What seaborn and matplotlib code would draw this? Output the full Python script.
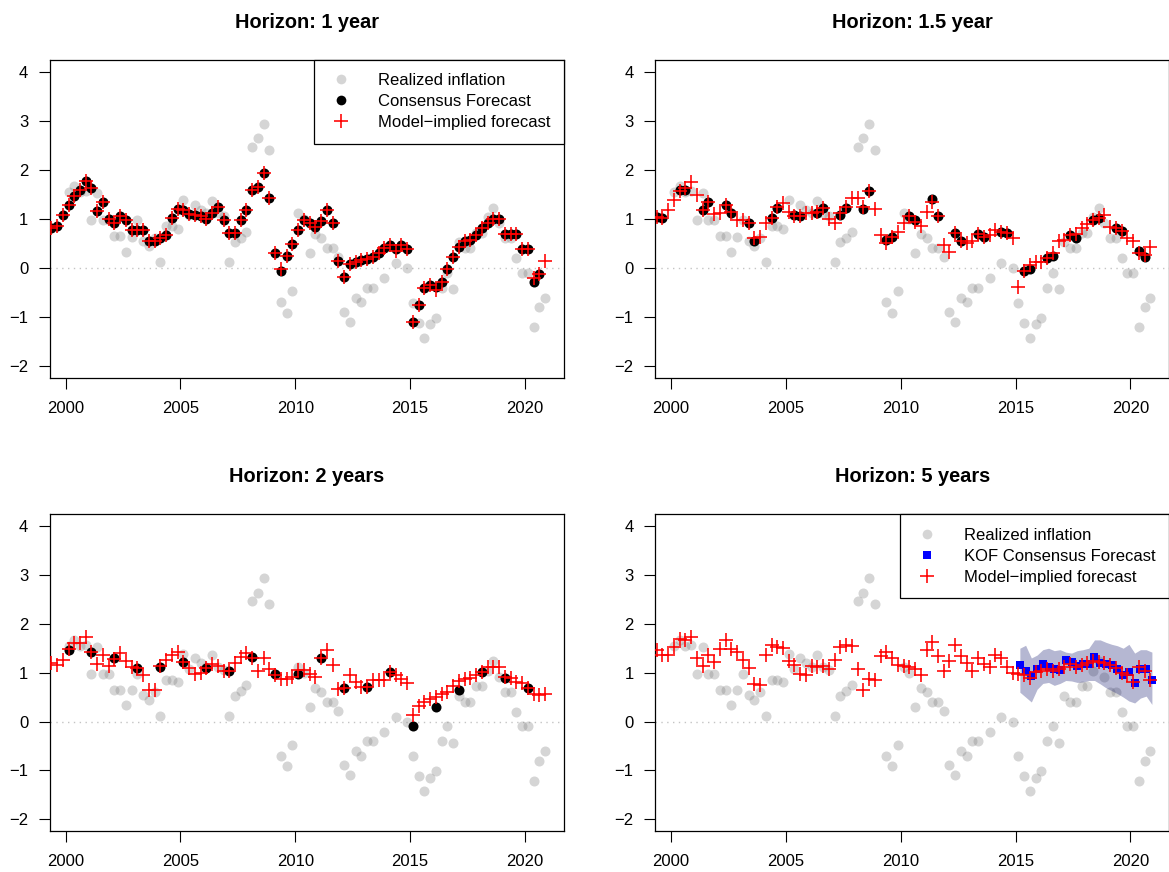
import numpy as np
import matplotlib
matplotlib.use("Agg")
import matplotlib.pyplot as plt
import seaborn as sns
from matplotlib.lines import Line2D

sns.set_theme(style="ticks")
plt.rcParams["font.family"] = ["Liberation Sans", "DejaVu Sans"]
plt.rcParams["axes.unicode_minus"] = True

# Quarterly observation dates (mid-quarter), 1999Q2 .. 2020Q4
dates = np.round(np.arange(1999.375, 2021.0, 0.25), 3)
nan = np.nan

# Realized CPI inflation (same in every panel)
realized = [
    nan, nan, nan, 1.55, 1.66, 1.55, 1.56, 0.98, 1.53, 0.98, 0.98,
    0.65, 0.65, 0.33, 0.64, 0.97, 0.54, 0.44, 0.60, 0.12, 0.85, 0.85,
    0.80, 1.39, 1.08, 1.29, 1.19, 1.12, 1.36, 1.12, 1.05, 0.12, 0.52,
    0.62, 0.74, 2.47, 2.64, 2.94, 2.41, nan, -0.70, -0.91, -0.47, 1.12,
    1.00, 0.30, 0.69, 0.61, 0.40, 0.40, 0.22, -0.89, -1.10, -0.61, -0.70,
    -0.40, -0.40, nan, -0.21, nan, 0.10, nan, 0.00, -0.71, -1.12, -1.42,
    -1.15, -1.02, -0.40, -0.10, -0.43, 0.52, 0.40, 0.40, 0.72, 0.72, 1.03,
    1.23, 0.91, 0.61, 0.61, 0.20, -0.10, -0.10, -1.21, -0.80, -0.61,
]

# Horizon 1 year
consensus_1y = [
    0.81, 0.86, 1.08, 1.28, 1.47, 1.58, 1.78, 1.62, 1.17, 1.34, 1.00,
    0.91, 1.05, 0.98, 0.77, 0.77, 0.77, 0.55, 0.54, 0.62, 0.67, 1.01,
    1.20, 1.18, 1.10, 1.08, 1.05, 0.99, 1.11, 1.25, 0.98, 0.71, 0.71,
    0.98, 1.18, 1.59, 1.64, 1.94, 1.43, 0.31, -0.07, 0.24, 0.48, 0.77,
    0.98, 0.92, 0.83, 0.96, 1.19, 0.92, 0.14, -0.18, 0.08, 0.13, 0.16,
    0.18, 0.23, 0.31, 0.40, 0.47, 0.39, 0.47, 0.38, -1.11, -0.75, -0.41,
    -0.35, -0.38, -0.28, -0.03, 0.23, 0.43, 0.54, 0.57, 0.67, 0.81, 0.91,
    0.99, 0.99, 0.69, 0.69, 0.69, 0.39, 0.39, -0.28, -0.13,
]
model_1y = [
    0.81, 0.86, 1.08, 1.28, 1.47, 1.58, 1.78, 1.62, 1.17, 1.34, 1.00,
    0.91, 1.05, 0.98, 0.77, 0.77, 0.77, 0.55, 0.54, 0.62, 0.67, 1.01,
    1.20, 1.18, 1.10, 1.08, 1.05, 0.99, 1.11, 1.25, 0.98, 0.71, 0.71,
    0.98, 1.18, 1.59, 1.64, 1.94, 1.43, 0.31, -0.03, 0.24, 0.48, 0.77,
    0.98, 0.92, 0.83, 0.96, 1.19, 0.92, 0.14, -0.18, 0.08, 0.13, 0.16,
    0.18, 0.23, 0.31, 0.40, 0.47, 0.35, 0.47, 0.38, -1.11, -0.75, -0.41,
    -0.35, -0.45, -0.28, -0.03, 0.23, 0.43, 0.54, 0.57, 0.67, 0.81, 0.91,
    0.99, 0.99, 0.69, 0.69, 0.69, 0.39, 0.39, -0.21, -0.13, 0.15,
]

# Horizon 1.5 years (consensus published for Q2 and Q3 of each year)
dates_cons_15y = np.round(np.sort(np.concatenate(
    [np.arange(1999.375, 2021, 1.0), np.arange(1999.625, 2021, 1.0)])), 3)
consensus_15y = [
    1.03, 1.01, 1.59, 1.59, 1.18, 1.35, 1.28, 1.11, 0.91, 0.54, 1.01,
    1.22, 1.08, 1.05, 1.11, 1.22, 1.08, 1.22, 1.20, 1.56, 0.57, 0.64,
    1.05, 0.98, 1.40, 1.05, 0.72, 0.55, 0.70, 0.63, 0.73, 0.71, -0.07,
    -0.02, 0.20, 0.24, 0.68, 0.62, 0.98, 1.01, 0.81, 0.75, 0.35, 0.22,
]
model_15y = [
    1.03, 1.01, 1.18, 1.39, 1.56, 1.62, 1.76, 1.49, 1.18, 1.35, 1.09,
    1.11, 1.28, 1.15, 0.98, 0.98, 0.91, 0.60, 0.64, 0.91, 1.01, 1.25,
    1.32, 1.15, 1.06, 1.06, 1.11, 1.11, 1.15, 1.22, 0.99, 0.91, 1.11,
    1.25, 1.42, 1.42, 1.25, 1.56, 1.20, 0.67, 0.50, 0.64, 0.74, 0.91,
    1.05, 0.94, 0.86, 1.15, 1.35, 1.05, 0.47, 0.33, 0.72, 0.55, 0.50,
    0.54, 0.70, 0.63, 0.67, 0.77, 0.73, 0.71, 0.60, -0.38, -0.07, 0.06,
    0.13, 0.13, 0.20, 0.30, 0.54, 0.57, 0.68, 0.70, 0.81, 0.89, 0.98,
    1.01, 1.07, 0.84, 0.81, 0.75, 0.60, 0.54, 0.30, 0.26, 0.42,
]

# Horizon 2 years (consensus published in Q1 of each year)
dates_cons_2y = np.round(np.arange(2000.125, 2021, 1.0), 3)
consensus_2y = [
    1.46, 1.42, 1.29, 1.10, 1.12, 1.21, 1.10, 1.03, 1.32, 0.97, 0.98,
    1.29, 0.69, 0.71, 1.02, -0.10, 0.30, 0.64, 1.02, 0.89, 0.69,
]
model_2y = [
    1.19, 1.15, 1.25, 1.49, 1.60, 1.60, 1.73, 1.42, 1.17, 1.36, 1.14,
    1.27, 1.41, 1.24, 1.12, 1.10, 0.96, 0.64, 0.64, 1.14, 1.25, 1.37,
    1.42, 1.21, 1.10, 0.98, 1.00, 1.10, 1.17, 1.14, 1.03, 1.03, 1.19,
    1.32, 1.41, 1.30, 1.03, 1.31, 1.07, 0.95, 0.87, 0.87, 0.91, 1.05,
    1.05, 0.98, 0.91, 1.29, 1.46, 1.15, 0.67, 0.69, 0.95, 0.81, 0.71,
    0.71, 0.85, 0.85, 0.85, 1.02, 0.95, 0.88, 0.78, 0.13, 0.31, 0.40,
    0.47, 0.50, 0.57, 0.61, 0.72, 0.82, 0.88, 0.89, 0.95, 1.02, 1.12,
    1.12, 1.12, 0.92, 0.89, 0.81, 0.78, 0.69, 0.57, 0.55, 0.57,
]

# Horizon 5 years
model_5y = [
    1.46, 1.36, 1.36, 1.53, 1.68, 1.66, 1.73, 1.31, 1.14, 1.36, 1.22,
    1.49, 1.66, 1.48, 1.42, 1.25, 1.10, 0.76, 0.74, 1.37, 1.57, 1.53,
    1.51, 1.23, 1.15, 0.98, 0.95, 1.14, 1.12, 1.14, 1.08, 1.25, 1.53,
    1.56, 1.54, 1.08, 0.65, 0.88, 0.85, 1.34, 1.42, 1.29, 1.15, 1.14,
    1.12, 1.08, 0.96, 1.46, 1.63, 1.34, 1.03, 1.23, 1.56, 1.34, 1.19,
    1.04, 1.29, 1.17, 1.12, 1.36, 1.29, 1.12, 1.00, 0.98, 0.96, 0.90,
    1.02, 1.04, 1.07, 1.04, 1.07, 1.12, 1.18, 1.12, 1.15, 1.19, 1.23,
    1.22, 1.19, 1.15, 1.10, 1.00, 0.95, 0.81, 1.12, 1.03, 0.85,
]
dates_kof = np.round(np.arange(2015.19, 2021.0, 0.25), 3)
kof_5y = [
    1.16, 1.04, 0.94, 1.08, 1.18, 1.11, 1.07, 1.06, 1.25, 1.21, 1.13,
    1.17, 1.17, 1.32, 1.20, 1.18, 1.16, 1.08, 0.95, 1.01, 0.79, 1.08,
    1.08, 0.84,
]
kof_5y_high = [
    1.50, 1.56, 1.30, 1.36, 1.47, 1.50, 1.45, 1.47, 1.42, 1.40, 1.45,
    1.47, 1.50, 1.67, 1.67, 1.62, 1.58, 1.55, 1.50, 1.58, 1.40, 1.47,
    1.47, 1.42,
]
kof_5y_low = [
    0.60, 0.50, 0.40, 0.66, 0.78, 0.80, 0.74, 0.78, 0.84, 0.83, 0.80,
    0.81, 0.84, 0.84, 0.77, 0.69, 0.63, 0.57, 0.50, 0.42, 0.38, 0.48,
    0.52, 0.35,
]

titles = ["Horizon: 1 year", "Horizon: 1.5 year", "Horizon: 2 years", "Horizon: 5 years"]
x_ticks = [2000, 2005, 2010, 2015, 2020]
y_ticks = [-2, -1, 0, 1, 2, 3, 4]

GREY = (0.5, 0.5, 0.5)
GREY_ALPHA = 0.33
BAND = (0.10, 0.12, 0.45)

S_DOT = 52
S_PLUS = 98
S_SQUARE = 32
PLUS_LW = 1.15


def style_axes(ax, title):
    ax.set_xlim(1999.3, 2021.7)
    ax.set_ylim(-2.24, 4.24)
    ax.set_xticks(x_ticks)
    ax.set_yticks(y_ticks)
    ax.axhline(0, color="#c4c4c4", lw=1.0, ls=(0, (1, 3.2)), zorder=0.5)
    ax.set_title(title, fontsize=14.4, fontweight="bold", pad=23, color="black")
    for sp in ax.spines.values():
        sp.set_visible(True)
        sp.set_color("black")
        sp.set_linewidth(0.9)
    ax.tick_params(axis="both", direction="out", length=7.6, width=0.8,
                   color="black", labelsize=12, labelcolor="black")
    ax.tick_params(axis="y", pad=7.8)
    ax.tick_params(axis="x", pad=9.0)
    ax.set_xlabel("")
    ax.set_ylabel("")


def grey_points(ax):
    sns.scatterplot(x=dates, y=realized, ax=ax, color=GREY, alpha=GREY_ALPHA,
                    s=S_DOT, linewidth=0, marker="o", legend=False, zorder=2)


def black_points(ax, x, y):
    sns.scatterplot(x=x, y=y, ax=ax, color="black", s=S_DOT, linewidth=0,
                    marker="o", legend=False, zorder=3)


def red_plus(ax, y):
    sns.scatterplot(x=dates, y=y, ax=ax, color="red", s=S_PLUS,
                    linewidth=PLUS_LW, marker="+", legend=False, zorder=5)


def add_legend(ax, middle_handle, middle_label):
    handles = [
        Line2D([], [], ls="", marker="o", color=GREY, alpha=GREY_ALPHA,
               markersize=7.0, markeredgewidth=0),
        middle_handle,
        Line2D([], [], ls="", marker="+", color="red", markersize=9.9,
               markeredgewidth=PLUS_LW),
    ]
    labels = ["Realized inflation", middle_label, "Model\u2212implied forecast"]
    leg = ax.legend(handles, labels, loc="upper right", bbox_to_anchor=(1, 1),
                    borderaxespad=0, frameon=True, fancybox=False, framealpha=1,
                    edgecolor="black", fontsize=12, borderpad=0.8,
                    handlelength=1.6, handletextpad=1.45, labelspacing=0.36)
    leg.get_frame().set_linewidth(0.9)
    for t in leg.get_texts():
        t.set_color("black")
    return leg


fig = plt.figure(figsize=(11.69, 8.72), dpi=100)
fig.patch.set_facecolor("white")
positions = [
    [0.0424, 0.5667, 0.4400, 0.3646],
    [0.5603, 0.5667, 0.4400, 0.3646],
    [0.0424, 0.0470, 0.4400, 0.3632],
    [0.5603, 0.0470, 0.4400, 0.3632],
]
axes = [fig.add_axes(p) for p in positions]

# Panel 1: 1-year horizon
ax = axes[0]
grey_points(ax)
black_points(ax, dates[:len(consensus_1y)], consensus_1y)
red_plus(ax, model_1y)
style_axes(ax, titles[0])
add_legend(ax, Line2D([], [], ls="", marker="o", color="black", markersize=7.0,
                      markeredgewidth=0), "Consensus Forecast")

# Panel 2: 1.5-year horizon
ax = axes[1]
grey_points(ax)
black_points(ax, dates_cons_15y, consensus_15y)
red_plus(ax, model_15y)
style_axes(ax, titles[1])

# Panel 3: 2-year horizon
ax = axes[2]
grey_points(ax)
black_points(ax, dates_cons_2y, consensus_2y)
red_plus(ax, model_2y)
style_axes(ax, titles[2])

# Panel 4: 5-year horizon with KOF consensus range
ax = axes[3]
grey_points(ax)
ax.fill_between(dates_kof, kof_5y_low, kof_5y_high, color=BAND, alpha=0.32,
                linewidth=0, zorder=2.5)
sns.scatterplot(x=dates_kof, y=kof_5y, ax=ax, color="blue", s=S_SQUARE,
                linewidth=0, marker="s", legend=False, zorder=4)
red_plus(ax, model_5y)
style_axes(ax, titles[3])
add_legend(ax, Line2D([], [], ls="", marker="s", color="blue", markersize=5.7,
                      markeredgewidth=0), "KOF Consensus Forecast")

fig.savefig("out.png", dpi=100, facecolor="white")
